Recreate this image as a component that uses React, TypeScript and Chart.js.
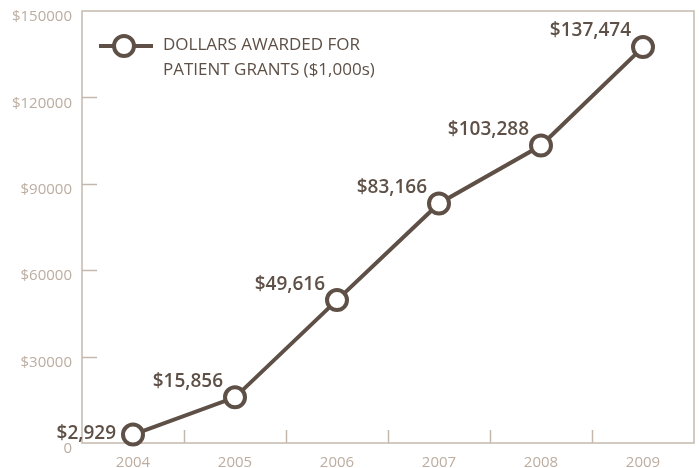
import React, { useEffect, useRef } from "react";
import { Chart, registerables } from "chart.js";

Chart.register(...registerables);

const years = ["2004", "2005", "2006", "2007", "2008", "2009"];
const grants = [2929, 15856, 49616, 83166, 103288, 137474];
const pointLabels = ["$2,929", "$15,856", "$49,616", "$83,166", "$103,288", "$137,474"];
const legendLines = ["DOLLARS AWARDED FOR", "PATIENT GRANTS ($1,000s)"];
const yTickValues = [0, 30000, 60000, 90000, 120000, 150000];

const DARK = "#5e5046";
const LIGHT = "#bcada0";
const BORDER = "#c4b8ad";
const FONT = "'Open Sans', 'DejaVu Sans', sans-serif";

const framePlugin = {
  id: "frame",
  beforeDatasetsDraw(chart: any) {
    const { ctx, chartArea } = chart;
    const { left, right, top, bottom } = chartArea;
    ctx.save();
    ctx.strokeStyle = BORDER;
    ctx.lineWidth = 1.5;
    ctx.strokeRect(left, top, right - left, bottom - top);
    const ys = chart.scales.y;
    yTickValues.forEach((v) => {
      if (v === 0 || v === 150000) return;
      const py = Math.round(ys.getPixelForValue(v)) + 0.5;
      ctx.beginPath();
      ctx.moveTo(left, py);
      ctx.lineTo(left + 15, py);
      ctx.stroke();
    });
    const xs = chart.scales.x;
    for (let i = 1; i < years.length; i++) {
      const px = Math.round((xs.getPixelForValue(i - 1) + xs.getPixelForValue(i)) / 2) + 0.5;
      ctx.beginPath();
      ctx.moveTo(px, bottom);
      ctx.lineTo(px, bottom - 13);
      ctx.stroke();
    }
    ctx.restore();
  },
  afterDraw(chart: any) {
    const { ctx } = chart;
    const meta = chart.getDatasetMeta(0);
    ctx.save();
    ctx.fillStyle = DARK;
    ctx.font = `600 19px ${FONT}`;
    ctx.textAlign = "right";
    ctx.textBaseline = "middle";
    meta.data.forEach((pt: any, i: number) => {
      if (i === 0) {
        ctx.fillText(pointLabels[i], pt.x - 17, pt.y - 1);
      } else {
        ctx.fillText(pointLabels[i], pt.x - 12, pt.y - 16);
      }
    });
    const lx = 99, ly = 46;
    ctx.strokeStyle = DARK;
    ctx.lineWidth = 4;
    ctx.beginPath();
    ctx.moveTo(lx, ly);
    ctx.lineTo(lx + 54, ly);
    ctx.stroke();
    ctx.beginPath();
    ctx.arc(lx + 25, ly, 10, 0, Math.PI * 2);
    ctx.fillStyle = "#ffffff";
    ctx.fill();
    ctx.stroke();
    ctx.fillStyle = DARK;
    ctx.font = `400 17px ${FONT}`;
    ctx.textAlign = "left";
    ctx.textBaseline = "middle";
    ctx.fillText(legendLines[0], 163, 45);
    ctx.fillText(legendLines[1], 163, 70);
    ctx.restore();
  },
};

export default function App() {
  const ref = useRef<HTMLCanvasElement>(null);
  useEffect(() => {
    document.body.style.margin = "0";
    const chart = new Chart(ref.current!, {
      type: "line",
      data: {
        labels: years,
        datasets: [
          {
            data: grants,
            borderColor: DARK,
            borderWidth: 4,
            pointRadius: 10,
            pointBorderWidth: 4,
            pointBackgroundColor: "#ffffff",
            pointBorderColor: DARK,
            tension: 0,
            clip: false,
          },
        ],
      },
      options: {
        responsive: false,
        animation: false,
        layout: { autoPadding: false, padding: { top: 11, right: 5, left: 0, bottom: 0 } },
        plugins: { legend: { display: false }, tooltip: { enabled: false } },
        scales: {
          x: {
            offset: true,
            grid: { display: false, drawTicks: false },
            border: { display: false },
            ticks: { color: LIGHT, font: { family: FONT, size: 15 }, padding: 11 },
            afterFit(s: any) {
              s.height = 25;
              s.paddingLeft = 0;
              s.paddingRight = 0;
            },
          },
          y: {
            min: 0,
            max: 150000,
            grid: { display: false, drawTicks: false },
            border: { display: false },
            afterBuildTicks(s: any) {
              s.ticks = yTickValues.map((v) => ({ value: v }));
            },
            ticks: {
              color: LIGHT,
              font: { family: FONT, size: 15 },
              padding: 10,
              labelOffset: 6,
              callback: (v: any) => (v === 0 ? "0" : "$" + v),
            },
            afterFit(s: any) {
              s.width = 82;
              s.paddingTop = 0;
              s.paddingBottom = 0;
            },
          },
        },
      },
      plugins: [framePlugin],
    });
    return () => chart.destroy();
  }, []);
  return <canvas ref={ref} width={699} height={468} style={{ display: "block" }} />;
}
